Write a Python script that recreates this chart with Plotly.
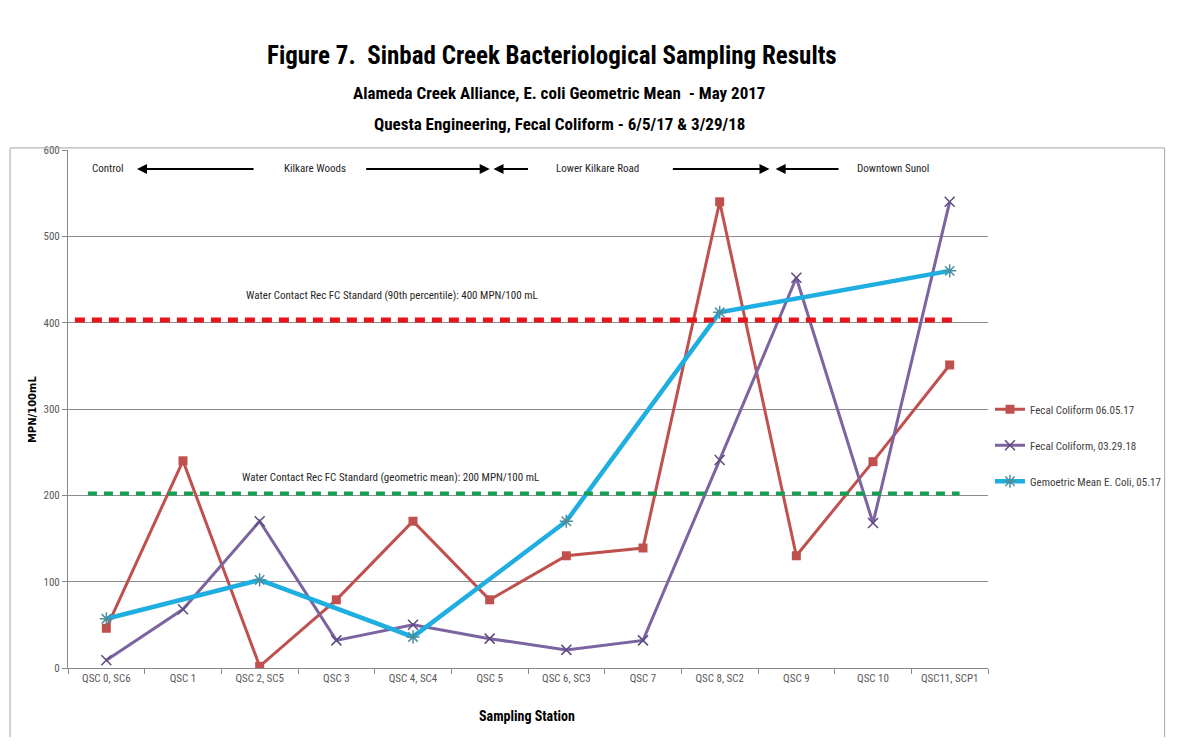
import plotly.graph_objects as go

stations = ["QSC 0, SC6", "QSC 1", "QSC 2, SC5", "QSC 3", "QSC 4, SC4", "QSC 5",
            "QSC 6, SC3", "QSC 7", "QSC 8, SC2", "QSC 9", "QSC 10", "QSC11, SCP1"]
fecal_060517 = [46, 240, 2, 79, 170, 79, 130, 139, 540, 130, 239, 351]
fecal_032918 = [9, 68, 170, 32, 50, 34, 21, 32, 241, 452, 168, 540]
geomean_ecoli = [57, None, 102, None, 36, None, 170, None, 412, None, None, 460]
std_90th = 403
std_geo = 202
y_ticks = [0, 100, 200, 300, 400, 500, 600]

FONT = "Liberation Sans Narrow, Arial Narrow, Roboto Condensed, sans-serif"
GRAY = "#595959"

fig = go.Figure()
fig.add_trace(go.Scatter(
    x=stations, y=fecal_060517, name="Fecal Coliform 06.05.17",
    mode="lines+markers", legendgroup="a",
    line=dict(color="#C0504D", width=3),
    marker=dict(symbol="square", size=9, color="#C0504D")))
fig.add_trace(go.Scatter(
    x=stations, y=fecal_032918, name="Fecal Coliform, 03.29.18",
    mode="lines+markers", legendgroup="b",
    line=dict(color="#7B64A0", width=3),
    marker=dict(symbol="x-thin", size=10, color="#5E4A80",
                line=dict(color="#5E4A80", width=1.5))))
fig.add_trace(go.Scatter(
    x=stations, y=geomean_ecoli, name="Gemoetric Mean E. Coli, 05.17",
    mode="lines+markers", connectgaps=True, legendgroup="c",
    line=dict(color="#1EAEE0", width=4.5),
    marker=dict(symbol="asterisk", size=11, color="#4BACC6",
                line=dict(color="#4A8FA0", width=1.5))))

# standard lines
fig.add_shape(type="line", xref="x", yref="y", x0=-0.41, x1=11.1, y0=std_90th, y1=std_90th,
              line=dict(color="#E8141A", width=5, dash="10px,7px"), layer="above")
fig.add_shape(type="line", xref="x", yref="y", x0=-0.24, x1=11.13, y0=std_geo, y1=std_geo,
              line=dict(color="#14A050", width=4, dash="9px,7px"), layer="above")

# outer frame
fig.add_shape(type="rect", xref="paper", yref="paper", x0=-0.063, x1=1.192, y0=-0.141, y1=1.004,
              line=dict(color="#A6A6A6", width=1))

ann = [
    dict(text="Water Contact Rec FC Standard (90th percentile): 400 MPN/100 mL", x=3.73, y=431),
    dict(text="Water Contact Rec FC Standard (geometric mean): 200 MPN/100 mL", x=3.70, y=221),
    dict(text="Control", x=0.02, y=578),
    dict(text="Kilkare Woods", x=2.72, y=578),
    dict(text="Lower Kilkare Road", x=6.41, y=578),
    dict(text="Downtown Sunol", x=10.26, y=578),
]
for a in ann:
    fig.add_annotation(text=a["text"], x=a["x"], y=a["y"], xref="x", yref="y",
                       showarrow=False, font=dict(family=FONT, size=11, color="#262626"))

arrows = [(0.40, 1.94), (5.0, 3.37), (5.05, 5.52), (8.65, 7.37), (8.73, 9.57)]
for head, tail in arrows:
    fig.add_annotation(x=head, y=578, ax=tail, ay=578, xref="x", yref="y", axref="x", ayref="y",
                       text="", showarrow=True, arrowhead=2, arrowsize=1, arrowwidth=2,
                       arrowcolor="black")

# titles
fig.add_annotation(text="<b>Figure 7.  Sinbad Creek Bacteriological Sampling Results</b>",
                   xref="paper", yref="paper", x=0.526, y=1.183, showarrow=False,
                   xanchor="center", yanchor="middle",
                   font=dict(family=FONT, size=25, color="black"))
fig.add_annotation(text="<b>Alameda Creek Alliance, E. coli Geometric Mean  - May 2017</b>",
                   xref="paper", yref="paper", x=0.534, y=1.110, showarrow=False,
                   xanchor="center", yanchor="middle",
                   font=dict(family=FONT, size=17, color="black"))
fig.add_annotation(text="<b>Questa Engineering, Fecal Coliform - 6/5/17 & 3/29/18</b>",
                   xref="paper", yref="paper", x=0.534, y=1.050, showarrow=False,
                   xanchor="center", yanchor="middle",
                   font=dict(family=FONT, size=17, color="black"))
fig.add_annotation(text="<b>MPN/100mL</b>", textangle=-90,
                   xref="paper", yref="paper", x=-0.039, y=0.50, showarrow=False,
                   xanchor="center", yanchor="middle",
                   font=dict(family="DejaVu Sans, Verdana, sans-serif", size=10, color="black"))
fig.add_annotation(text="<b>Sampling Station</b>",
                   xref="paper", yref="paper", x=0.499, y=-0.093, showarrow=False,
                   xanchor="center", yanchor="middle",
                   font=dict(family=FONT, size=14, color="black"))

fig.update_layout(
    width=1161, height=729,
    margin=dict(l=60, r=181, t=142, b=69, autoexpand=False),
    paper_bgcolor="white", plot_bgcolor="white",
    font=dict(family=FONT, size=11, color=GRAY),
    showlegend=True,
    legend=dict(xref="container", x=982 / 1161, y=0.43, yanchor="middle", xanchor="left",
                traceorder="grouped", tracegroupgap=17,
                font=dict(family=FONT, size=11, color="#404040"),
                bgcolor="rgba(0,0,0,0)"),
    xaxis=dict(type="category", range=[-0.5, 11.5], showgrid=False,
               showline=True, linecolor="#888888", linewidth=1,
               ticks="outside", tickson="boundaries", ticklen=5, tickcolor="#888888",
               tickfont=dict(family=FONT, size=11, color=GRAY)),
    yaxis=dict(range=[0, 600], tickvals=y_ticks, showgrid=True, gridcolor="#8C8C8C", gridwidth=1,
               showline=True, linecolor="#888888", linewidth=1,
               ticks="outside", ticklen=5, tickcolor="#888888", zeroline=False,
               tickfont=dict(family=FONT, size=11, color=GRAY)),
)

fig.write_html("out.html")
